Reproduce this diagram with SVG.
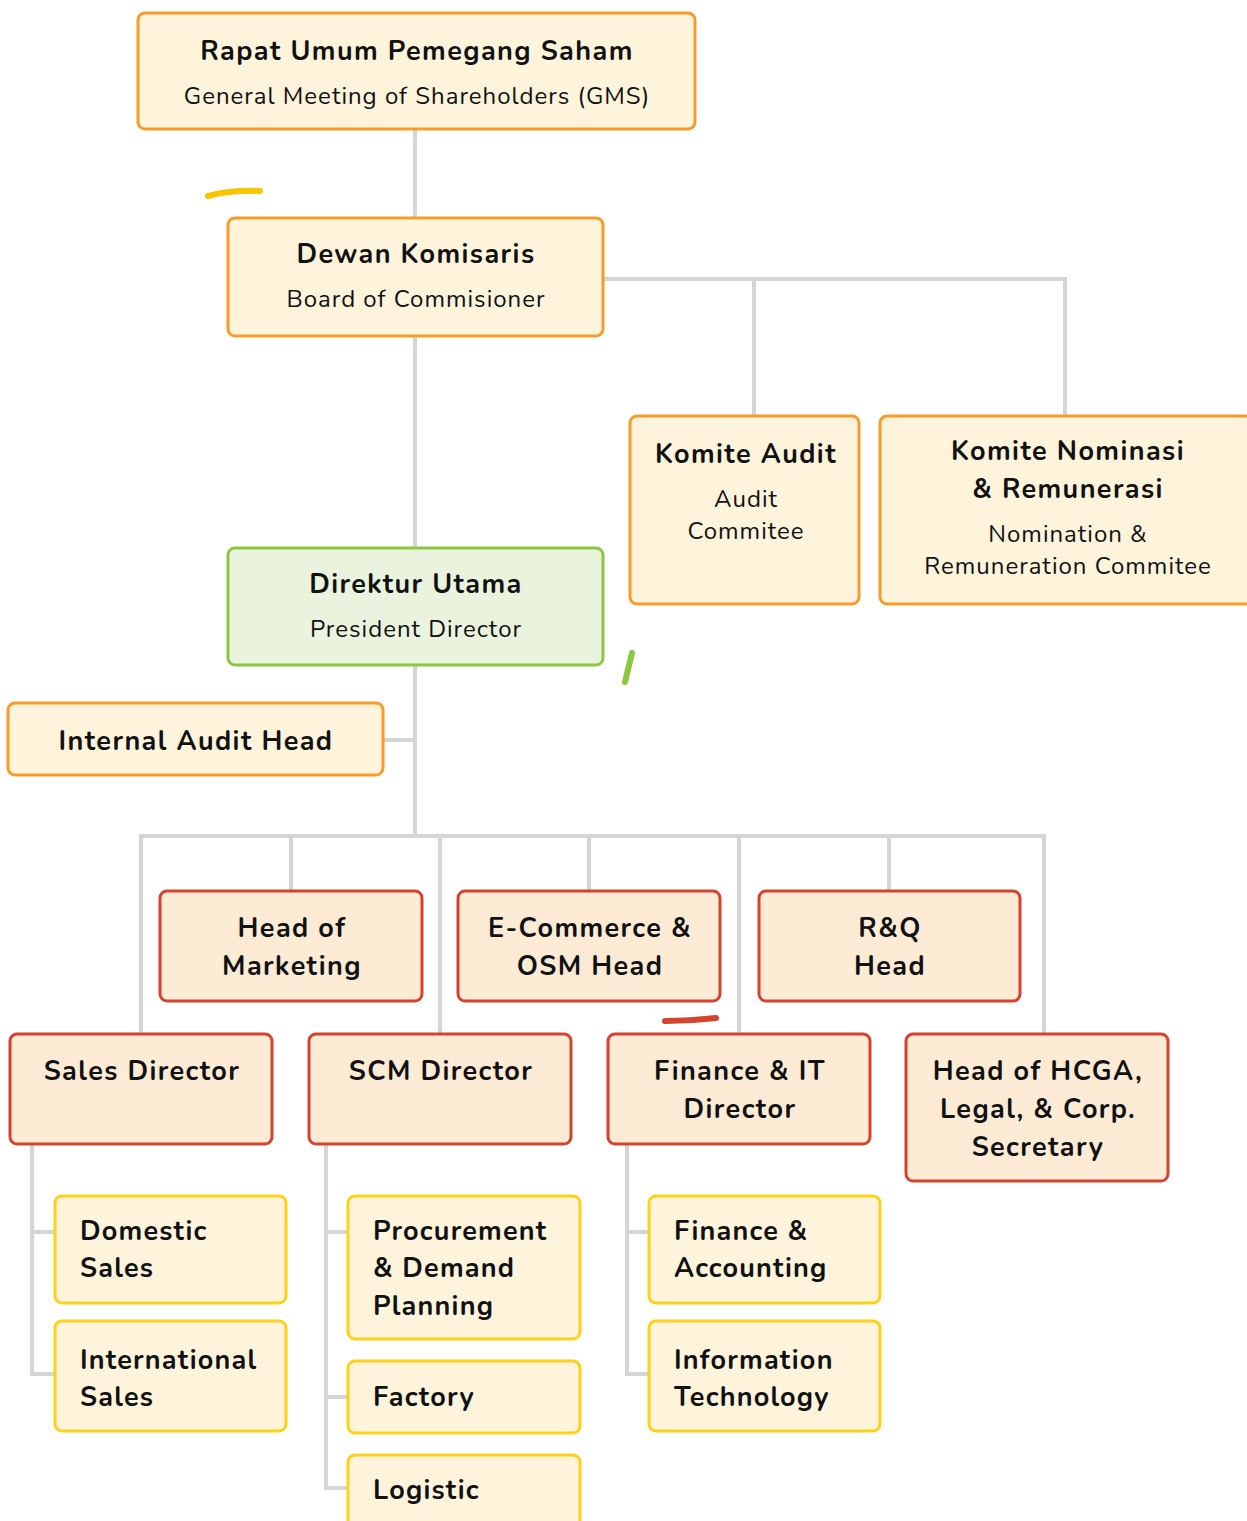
<svg xmlns="http://www.w3.org/2000/svg" width="1247" height="1521" viewBox="0 0 1247 1521">
<style>
text{font-family:"Nunito","Lato","Noto Sans",sans-serif;fill:#111;}
.t{font-size:27px;font-weight:700;text-anchor:middle;letter-spacing:1.4px;}
.s{font-size:24px;font-weight:400;text-anchor:middle;letter-spacing:1px;}
.i{font-size:27px;font-weight:700;letter-spacing:1.2px;}
.c{fill:none;stroke:#D5D5D7;stroke-width:4;}
.o{fill:#FEF3DB;stroke:#F79C2A;stroke-width:3;}
.g{fill:#EAF3DE;stroke:#8DC63F;stroke-width:3;}
.r{fill:#FDEBD6;stroke:#D44330;stroke-width:3;}
.y{fill:#FEF3DB;stroke:#FFD11A;stroke-width:3;}
.m{fill:none;stroke-width:6;stroke-linecap:round;}
</style>
<rect width="1247" height="1521" fill="#fff"/>
<g id="connectors">
<path class="c" d="M415 129V218M415 336V548M603 279H1065V416M754 279V416M415 665V836M383 740H415M141 1034V836H1044V1034M291 836V891M440 836V1034M589 836V891M739 836V1034M889 836V891"/>
<path class="c" d="M32 1144V1374H55M32 1232H55M326 1144V1488H348M326 1232H348M326 1397H348M627 1144V1374H649M627 1232H649"/>
</g>
<g id="marks">
<path class="m" stroke="#F7C600" d="M208 196Q230 190 260 191"/>
<path class="m" stroke="#8DC63F" d="M632 653L625 682"/>
<path class="m" stroke="#D44330" d="M665 1021Q690 1021 716 1018"/>
</g>
<g id="gms"><rect class="o" x="138" y="13" width="557" height="116" rx="7"/><text class="t" x="417" y="60">Rapat Umum Pemegang Saham</text><text class="s" x="417" y="104">General Meeting of Shareholders (GMS)</text></g>
<g id="dewan"><rect class="o" x="228" y="218" width="375" height="118" rx="7"/><text class="t" x="416" y="263">Dewan Komisaris</text><text class="s" x="416" y="307">Board of Commisioner</text></g>
<g id="komite-audit"><rect class="o" x="630" y="416" width="229" height="188" rx="7"/><text class="t" x="746" y="463">Komite Audit</text><text class="s" x="746" y="507">Audit</text><text class="s" x="746" y="539">Commitee</text></g>
<g id="komite-nominasi"><rect class="o" x="880" y="416" width="372" height="188" rx="7"/><text class="t" x="1068" y="460">Komite Nominasi</text><text class="t" x="1068" y="498">&amp; Remunerasi</text><text class="s" x="1068" y="542">Nomination &amp;</text><text class="s" x="1068" y="574">Remuneration Commitee</text></g>
<g id="direktur"><rect class="g" x="228" y="548" width="375" height="117" rx="7"/><text class="t" x="416" y="593">Direktur Utama</text><text class="s" x="416" y="637">President Director</text></g>
<g id="internal-audit"><rect class="o" x="8" y="703" width="375" height="72" rx="7"/><text class="t" x="196" y="750">Internal Audit Head</text></g>
<g id="marketing"><rect class="r" x="160" y="891" width="262" height="110" rx="7"/><text class="t" x="292" y="937">Head of</text><text class="t" x="292" y="975">Marketing</text></g>
<g id="ecommerce"><rect class="r" x="458" y="891" width="262" height="110" rx="7"/><text class="t" x="590" y="937">E-Commerce &amp;</text><text class="t" x="590" y="975">OSM Head</text></g>
<g id="rq"><rect class="r" x="759" y="891" width="261" height="110" rx="7"/><text class="t" x="890" y="937">R&amp;Q</text><text class="t" x="890" y="975">Head</text></g>
<g id="sales"><rect class="r" x="10" y="1034" width="262" height="110" rx="7"/><text class="t" x="142" y="1080">Sales Director</text></g>
<g id="scm"><rect class="r" x="309" y="1034" width="262" height="110" rx="7"/><text class="t" x="441" y="1080">SCM Director</text></g>
<g id="finance-it"><rect class="r" x="608" y="1034" width="262" height="110" rx="7"/><text class="t" x="740" y="1080">Finance &amp; IT</text><text class="t" x="740" y="1118">Director</text></g>
<g id="hcga"><rect class="r" x="906" y="1034" width="262" height="147" rx="7"/><text class="t" x="1038" y="1080">Head of HCGA,</text><text class="t" x="1038" y="1118">Legal, &amp; Corp.</text><text class="t" x="1038" y="1156">Secretary</text></g>
<g id="domestic"><rect class="y" x="55" y="1196" width="231" height="107" rx="7"/><text class="i" x="80" y="1240">Domestic</text><text class="i" x="80" y="1277">Sales</text></g>
<g id="international"><rect class="y" x="55" y="1321" width="231" height="110" rx="7"/><text class="i" x="80" y="1369">International</text><text class="i" x="80" y="1406">Sales</text></g>
<g id="procurement"><rect class="y" x="348" y="1196" width="232" height="143" rx="7"/><text class="i" x="373" y="1240">Procurement</text><text class="i" x="373" y="1277">&amp; Demand</text><text class="i" x="373" y="1315">Planning</text></g>
<g id="factory"><rect class="y" x="348" y="1361" width="232" height="72" rx="7"/><text class="i" x="373" y="1406">Factory</text></g>
<g id="logistic"><rect class="y" x="348" y="1455" width="232" height="80" rx="7"/><text class="i" x="373" y="1499">Logistic</text></g>
<g id="fin-acc"><rect class="y" x="649" y="1196" width="231" height="107" rx="7"/><text class="i" x="674" y="1240">Finance &amp;</text><text class="i" x="674" y="1277">Accounting</text></g>
<g id="it"><rect class="y" x="649" y="1321" width="231" height="110" rx="7"/><text class="i" x="674" y="1369">Information</text><text class="i" x="674" y="1406">Technology</text></g>
</svg>
